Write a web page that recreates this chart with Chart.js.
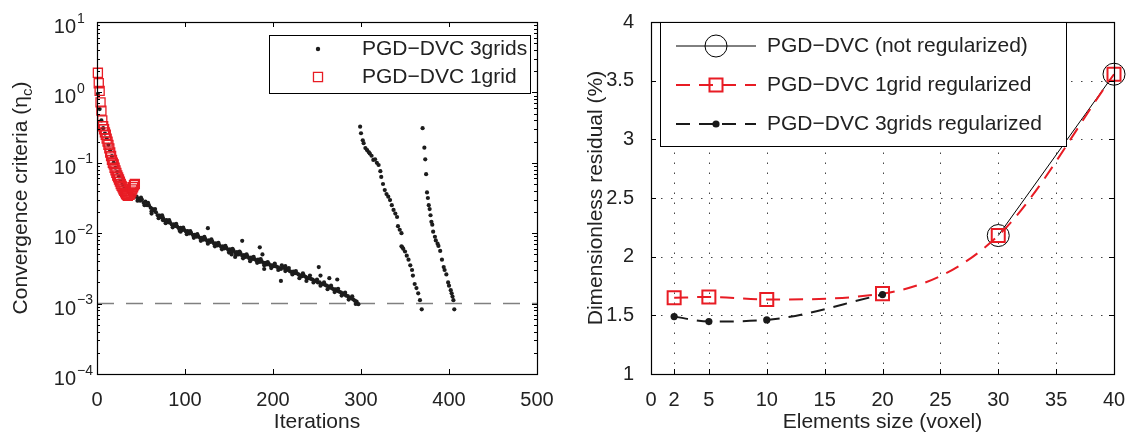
<!DOCTYPE html>
<html>
<head>
<meta charset="utf-8">
<script src="https://cdn.jsdelivr.net/npm/chart.js@4/dist/chart.umd.min.js"></script>
<style>
  html, body { margin: 0; padding: 0; background: #fff; }
  #wrap { position: relative; width: 1131px; height: 434px; }
  canvas { position: absolute; top: 0; }
  #left { left: 0; }
  #right { left: 560px; }
</style>
</head>
<body>
<div id="wrap">
  <canvas id="left" width="560" height="434"></canvas>
  <canvas id="right" width="571" height="434"></canvas>
</div>
<script>
// ---- left panel: convergence history ----
const redIter = [1,2,3,4,5,6,7,8,9,10,11,12,13,14,15,16,17,18,19,20,21,22,23,24,25,26,27,28,29,30,31,32,33,34,35,36,37,38,39,40,41,42,43];
const redConv = [1.9,1.35,1.05,0.72,0.55,0.40,0.33,0.30,0.27,0.25,
  0.22,0.20,0.18,0.16,0.14,0.125,0.11,0.10,0.095,0.085,
  0.078,0.072,0.066,0.062,0.058,0.054,0.050,0.047,0.045,0.042,
  0.040,0.038,0.036,0.035,0.034,0.036,0.035,0.037,0.039,0.042,
  0.045,0.048,0.050];

// 3grids, first run (odd iterations)
const seg1Iter = [1,3,5,7,9,11,13,15,17,19,21,23,25,27,29,31,33,35,37,39,41,43,
  45,47,49,51,53,55,57,59,61,63,65,67,69,71,73,75,77,79,81,83,85,87,89,91,93,95,97,99,
  101,103,105,107,109,111,113,115,117,119,121,123,125,127,129,131,133,135,137,139,141,143,145,147,149,
  151,153,155,157,159,161,163,165,167,169,171,173,175,177,179,181,183,185,187,189,191,193,195,197,199,
  201,203,205,207,209,211,213,215,217,219,221,223,225,227,229,231,233,235,237,239,241,243,245,247,249,
  251,253,255,257,259,261,263,265,267,269,271,273,275,277,279,281,283,285,287,289,291,293,295,297];
const seg1Conv = [0.95,0.58,0.40,0.31,0.26,0.22,0.18,0.15,0.125,0.10,0.085,0.074,0.064,0.056,0.05,0.046,0.042,0.04,0.037,0.036,0.034,0.033,
  0.033,0.031,0.029,0.030,0.027,0.028,0.025,0.025,0.023,0.022,
  0.021,0.0198,0.018,0.0178,0.0168,0.0165,0.0152,0.0154,0.0143,0.0141,
  0.0133,0.0134,0.0127,0.0125,0.0118,0.0119,0.0111,0.0112,0.0106,0.0107,
  0.0099,0.0100,0.0094,0.0095,0.0089,0.0090,0.0086,0.0086,0.0081,0.0083,
  0.0078,0.0079,0.0075,0.0076,0.0071,0.0072,0.0067,0.0068,0.0064,0.0065,
  0.0061,0.0062,0.0058,0.0059,0.0055,0.0057,0.0053,0.0054,0.0050,0.0052,
  0.0048,0.0049,0.0046,0.0047,0.0044,0.0045,0.0043,0.0043,0.0041,0.0042,
  0.0039,0.0040,0.0038,0.0038,0.0036,0.0037,0.0035,0.0035,0.0034,0.0034,
  0.0033,0.0032,0.0031,0.0033,0.0032,0.0031,0.0030,0.0029,0.0028,0.00285,
  0.0027,0.0027,0.0026,0.0025,0.00245,0.0025,0.0024,0.0023,0.0023,0.00225,
  0.0022,0.0021,0.0021,0.0020,0.0020,0.0019,0.0019,0.00185,0.0018,0.00175,
  0.0017,0.00165,0.0016,0.0016,0.00152,0.00148,0.00145,0.0014,0.00135,0.0013,
  0.00128,0.00122,0.0012,0.00115,0.0011,0.00107,0.00098];

// 3grids, first run (scattered points between, giving the band its width)
const band1Iter = [46,50,54,58,62,66,70,74,78,82,86,90,94,98,102,106,110,114,118,122,
  126,130,134,138,142,146,150,154,158,162,166,170,174,178,182,186,190,194,198,202,
  206,210,214,218,222,226,230,234,238,242,246,250,254,258,262,266,270,274,278,282,
  286,290,294];
const band1Conv = [0.029,0.032,0.025,0.027,0.0205,0.022,0.0163,0.018,0.0139,0.0153,
  0.0121,0.0136,0.0108,0.0120,0.0097,0.0107,0.0086,0.0097,0.0078,0.0089,
  0.0071,0.0082,0.0065,0.0073,0.0059,0.0066,0.0053,0.0060,0.0049,0.0055,
  0.0044,0.0050,0.0040,0.0046,0.0038,0.0043,0.0035,0.0039,0.0032,0.0037,
  0.0030,0.0035,0.0029,0.0032,0.0026,0.0029,0.0023,0.0027,0.0021,0.0025,
  0.0020,0.0022,0.0018,0.0020,0.0016,0.0018,0.00146,0.00162,0.0013,0.00143,
  0.00114,0.00127,0.00099];

const outIter = [62,75,95,126,153,157,165,185,188,190,209,214,252,254,264,273];
const outConv = [0.019,0.0153,0.0105,0.0118,0.0050,0.0046,0.0078,0.0063,0.0050,0.0031,0.0021,0.0034,0.0033,0.0025,0.0023,0.0022];

const seg2Iter = [299,300,302,303,305,307,309,310,312,314,316,318,320,322,323,325,327,329,331,333,
  335,337,339,341,342,344,346,346,347,348,350,352,354,356,358,359,361,363,365,367,369];
const seg2Conv = [0.326,0.263,0.209,0.19,0.162,0.151,0.141,0.135,0.126,0.11,
  0.112,0.10,0.093,0.076,0.063,0.05,0.041,0.036,0.033,0.0295,
  0.025,0.0214,0.019,0.017,0.0126,0.0112,0.010,0.0065,0.0063,0.006,
  0.0055,0.0048,0.0042,0.0035,0.003,0.0025,0.0019,0.00166,0.0014,0.00112,0.00083];

const seg3Iter = [370,372,373,374,375,376,377,378,379,380,381,382,384,385,387,388,390,392,394,395,397,399,400,402,403,404,405,406];
const seg3Conv = [0.31,0.164,0.112,0.069,0.038,0.0316,0.025,0.022,0.018,0.0145,
  0.0132,0.0105,0.0089,0.0079,0.0071,0.0066,0.0056,0.0042,0.0033,0.003,
  0.0026,0.002,0.0018,0.00155,0.0014,0.00126,0.00112,0.00083];

const thresholdIter = [0, 500];
const thresholdConv = [1e-3, 1e-3];

// ---- right panel: residual vs element size ----
const notRegSize = [30, 40];
const notRegRes = [2.18, 3.555];
const grid1Size = [2, 5, 10, 20, 30, 40];
const grid1Res = [1.649, 1.657, 1.635, 1.685, 2.18, 3.555];
const grid3Size = [2, 5, 10, 20];
const grid3Res = [1.489, 1.447, 1.461, 1.677];
const rightXTicks = [0, 2, 5, 10, 15, 20, 25, 30, 35, 40];

const FONT = '"Liberation Sans", Arial, Helvetica, sans-serif';
const RED = 'rgb(232,28,36)';
const INK = '#222';
Chart.defaults.font.family = FONT;
Chart.defaults.font.size = 20;
Chart.defaults.color = INK;

function pts(xs, ys) {
  return xs.map((x, i) => ({ x: x, y: ys[i] }));
}

function drawMarker(ctx, style, r, x, y, fill, stroke, lw) {
  ctx.save();
  ctx.setLineDash([]);
  ctx.beginPath();
  if (style === 'rect') {
    const s = r * Math.SQRT1_2;
    ctx.rect(x - s, y - s, 2 * s, 2 * s);
  } else {
    ctx.arc(x, y, r, 0, Math.PI * 2);
  }
  if (fill && fill !== 'transparent') { ctx.fillStyle = fill; ctx.fill(); }
  if (lw > 0) { ctx.strokeStyle = stroke; ctx.lineWidth = lw; ctx.stroke(); }
  ctx.restore();
}

// matlab-like box, inward ticks, dotted grid, titles and boxed legend
const matlabAxes = {
  id: 'matlabAxes',
  beforeDatasetsDraw(chart, args, o) {
    if (!o.dotGrid) return;
    const { ctx, chartArea: a } = chart;
    const x = chart.scales.x, y = chart.scales.y;
    ctx.save();
    ctx.strokeStyle = '#444';
    ctx.lineWidth = 1;
    ctx.setLineDash([1.5, 8.5]);
    ctx.beginPath();
    x.ticks.forEach(t => {
      if (t.value <= x.min || t.value >= x.max) return;
      const px = Math.round(x.getPixelForValue(t.value)) + 0.5;
      ctx.moveTo(px, a.bottom); ctx.lineTo(px, a.top);
    });
    y.ticks.forEach(t => {
      if (t.value <= y.min || t.value >= y.max) return;
      const py = Math.round(y.getPixelForValue(t.value)) + 0.5;
      ctx.moveTo(a.left, py); ctx.lineTo(a.right, py);
    });
    ctx.stroke();
    ctx.restore();
  },
  afterDatasetsDraw(chart, args, o) {
    const { ctx, chartArea: a } = chart;
    const x = chart.scales.x, y = chart.scales.y;
    ctx.save();
    ctx.strokeStyle = '#000';
    ctx.lineWidth = 1;
    ctx.beginPath();
    x.ticks.forEach(t => {
      const px = Math.round(x.getPixelForValue(t.value)) + 0.5;
      ctx.moveTo(px, a.bottom); ctx.lineTo(px, a.bottom - o.tick);
      ctx.moveTo(px, a.top); ctx.lineTo(px, a.top + o.tick);
    });
    y.ticks.forEach(t => {
      const py = Math.round(y.getPixelForValue(t.value)) + 0.5;
      const len = t.major === false ? o.minorTick : o.tick;
      ctx.moveTo(a.left, py); ctx.lineTo(a.left + len, py);
      ctx.moveTo(a.right, py); ctx.lineTo(a.right - len, py);
    });
    ctx.stroke();
    ctx.lineWidth = o.boxWidth;
    ctx.strokeRect(Math.round(a.left) + 0.5, Math.round(a.top) + 0.5,
      Math.round(a.right - a.left), Math.round(a.bottom - a.top));
    ctx.restore();
  },
  afterDraw(chart, args, o) {
    const { ctx, chartArea: a } = chart;
    const y = chart.scales.y;
    ctx.save();
    ctx.fillStyle = INK;

    // log tick labels 10^n
    if (o.logLabels) {
      y.ticks.forEach(t => {
        if (t.major === false) return;
        const py = y.getPixelForValue(t.value);
        const e = Math.round(Math.log10(t.value));
        ctx.font = '20px ' + FONT;
        ctx.textAlign = 'right';
        ctx.textBaseline = 'alphabetic';
        ctx.fillText('10', a.left - 21, py + 11);
        ctx.font = '14px ' + FONT;
        ctx.textAlign = 'left';
        ctx.fillText(e < 0 ? '\u2212' + Math.abs(e) : String(e), a.left - 20, py + 0.5);
      });
    }

    // x title
    ctx.font = '21px ' + FONT;
    ctx.textAlign = 'center';
    ctx.textBaseline = 'middle';
    ctx.fillText(o.xTitle, (a.left + a.right) / 2, o.xTitleY);

    // y title (optional subscript)
    ctx.translate(o.yTitleX, (a.top + a.bottom) / 2);
    ctx.rotate(-Math.PI / 2);
    const main = o.yTitle, sub = o.ySub || '', tail = o.yTail || '';
    ctx.font = '21px ' + FONT;
    const wMain = ctx.measureText(main).width;
    const wTail = ctx.measureText(tail).width;
    ctx.font = '15px ' + FONT;
    const wSub = sub ? ctx.measureText(sub).width : 0;
    let cx = -(wMain + wSub + wTail) / 2;
    ctx.textAlign = 'left';
    ctx.textBaseline = 'alphabetic';
    ctx.font = '21px ' + FONT;
    ctx.fillText(main, cx, 7);
    cx += wMain;
    if (sub) {
      ctx.font = '15px ' + FONT;
      ctx.fillText(sub, cx, 12);
      cx += wSub;
    }
    ctx.font = '21px ' + FONT;
    ctx.fillText(tail, cx, 7);
    ctx.setTransform(1, 0, 0, 1, 0, 0);

    // legend box
    const L = o.legend;
    if (L) {
      ctx.fillStyle = '#fff';
      ctx.fillRect(L.box[0], L.box[1], L.box[2] - L.box[0], L.box[3] - L.box[1]);
      ctx.strokeStyle = '#000';
      ctx.lineWidth = 1;
      ctx.setLineDash([]);
      ctx.strokeRect(L.box[0] + 0.5, L.box[1] + 0.5, L.box[2] - L.box[0], L.box[3] - L.box[1]);
      L.items.forEach((di, k) => {
        const ds = chart.data.datasets[di];
        const ry = L.rowsY[k];
        if (L.lineX) {
          ctx.save();
          ctx.strokeStyle = ds.borderColor;
          ctx.lineWidth = ds.borderWidth;
          ctx.setLineDash(ds.borderDash || []);
          ctx.beginPath();
          ctx.moveTo(L.lineX[0], ry); ctx.lineTo(L.lineX[1], ry);
          ctx.stroke();
          ctx.restore();
        }
        drawMarker(ctx, ds.pointStyle, L.markerR ? L.markerR[k] : ds.pointRadius, L.markerX, ry,
          ds.pointBackgroundColor, ds.pointBorderColor, ds.pointBorderWidth);
        ctx.fillStyle = INK;
        ctx.font = '21px ' + FONT;
        ctx.textAlign = 'left';
        ctx.textBaseline = 'middle';
        ctx.fillText(ds.label, L.textX, ry);
      });
    }
    ctx.restore();
  }
};

// log ticks: decades plus minor 2..9
const logTicks = [];
[1e-4, 1e-3, 1e-2, 1e-1, 1].forEach(d => {
  for (let m = 1; m < 10; m++) logTicks.push({ value: +(m * d).toPrecision(3), major: m === 1 });
});
logTicks.push({ value: 10, major: true });

new Chart(document.getElementById('left'), {
  type: 'scatter',
  data: {
    datasets: [
      {
        label: 'PGD\u2212DVC 3grids',
        data: pts(seg1Iter.concat(band1Iter, outIter, seg2Iter, seg3Iter),
                  seg1Conv.concat(band1Conv, outConv, seg2Conv, seg3Conv)),
        pointStyle: 'circle', pointRadius: 2.1,
        pointBackgroundColor: '#1c1c1c', pointBorderColor: '#1c1c1c', pointBorderWidth: 0,
        clip: false, order: 2
      },
      {
        label: 'PGD\u2212DVC 1grid',
        data: pts(redIter, redConv),
        pointStyle: 'rect', pointRadius: 6.4,
        pointBackgroundColor: 'transparent', pointBorderColor: RED, pointBorderWidth: 1.3,
        clip: false, order: 1
      },
      {
        label: 'threshold',
        data: pts(thresholdIter, thresholdConv),
        showLine: true, borderColor: '#808080', borderWidth: 1.5, borderDash: [17, 12],
        pointRadius: 0, order: 3
      }
    ]
  },
  options: {
    responsive: false, animation: false, devicePixelRatio: 1,
    layout: { padding: { left: 0, right: 23, top: 22, bottom: 0 } },
    plugins: {
      legend: { display: false },
      tooltip: { enabled: false },
      matlabAxes: {
        tick: 5, minorTick: 3, boxWidth: 1.2, logLabels: true,
        xTitle: 'Iterations', xTitleY: 422,
        yTitle: 'Convergence criteria (\u03b7', ySub: 'c', yTail: ')', yTitleX: 20,
        legend: { box: [269, 35, 530, 93], items: [0, 1], rowsY: [49, 77], markerX: 318, textX: 362, markerR: [2.2, 6.4] }
      }
    },
    scales: {
      x: {
        type: 'linear', min: 0, max: 500,
        ticks: { stepSize: 100, padding: 6, maxRotation: 0, autoSkip: false },
        grid: { display: false }, border: { display: false },
        afterFit(s) { s.height = 60; s.paddingLeft = 0; s.paddingRight = 0; }
      },
      y: {
        type: 'logarithmic', min: 1e-4, max: 10,
        ticks: { display: false },
        grid: { display: false }, border: { display: false },
        afterBuildTicks(s) { s.ticks = logTicks.map(t => ({ value: t.value, major: t.major })); },
        afterFit(s) { s.width = 97; s.paddingTop = 0; s.paddingBottom = 0; }
      }
    }
  },
  plugins: [matlabAxes]
});

new Chart(document.getElementById('right'), {
  type: 'scatter',
  data: {
    datasets: [
      {
        label: 'PGD\u2212DVC (not regularized)',
        data: pts(notRegSize, notRegRes),
        showLine: true, borderColor: '#000', borderWidth: 1,
        pointStyle: 'circle', pointRadius: 11,
        pointBackgroundColor: 'transparent', pointBorderColor: '#000', pointBorderWidth: 1,
        clip: false, order: 3
      },
      {
        label: 'PGD\u2212DVC 1grid regularized',
        data: pts(grid1Size, grid1Res),
        showLine: true, borderColor: RED, borderWidth: 2, borderDash: [14, 9],
        cubicInterpolationMode: 'monotone',
        pointStyle: 'rect', pointRadius: 9.2,
        pointBackgroundColor: 'transparent', pointBorderColor: RED, pointBorderWidth: 2,
        clip: false, order: 2
      },
      {
        label: 'PGD\u2212DVC 3grids regularized',
        data: pts(grid3Size, grid3Res),
        showLine: true, borderColor: '#1a1a1a', borderWidth: 2, borderDash: [14, 9],
        cubicInterpolationMode: 'monotone',
        pointStyle: 'circle', pointRadius: 3.6,
        pointBackgroundColor: '#1a1a1a', pointBorderColor: '#1a1a1a', pointBorderWidth: 0,
        clip: false, order: 1
      }
    ]
  },
  options: {
    responsive: false, animation: false, devicePixelRatio: 1,
    layout: { padding: { left: 0, right: 17, top: 22, bottom: 0 } },
    plugins: {
      legend: { display: false },
      tooltip: { enabled: false },
      matlabAxes: {
        tick: 5, minorTick: 5, boxWidth: 1.2, dotGrid: true,
        xTitle: 'Elements size (voxel)', xTitleY: 422,
        yTitle: 'Dimensionless residual (%)', yTitleX: 35,
        legend: { box: [100, 22, 506, 146], items: [0, 1, 2], rowsY: [46, 85, 124],
          lineX: [116, 196], markerX: 156, textX: 207 }
      }
    },
    scales: {
      x: {
        type: 'linear', min: 0, max: 40,
        ticks: { padding: 6, maxRotation: 0, autoSkip: false },
        grid: { display: false }, border: { display: false },
        afterBuildTicks(s) { s.ticks = rightXTicks.map(v => ({ value: v })); },
        afterFit(s) { s.height = 60; s.paddingLeft = 0; s.paddingRight = 0; }
      },
      y: {
        type: 'linear', min: 1, max: 4,
        ticks: { stepSize: 0.5, padding: 9, callback: v => String(Math.round(v * 10) / 10) },
        grid: { display: false }, border: { display: false },
        afterFit(s) { s.width = 91; s.paddingTop = 0; s.paddingBottom = 0; }
      }
    }
  },
  plugins: [matlabAxes]
});
</script>
</body>
</html>
